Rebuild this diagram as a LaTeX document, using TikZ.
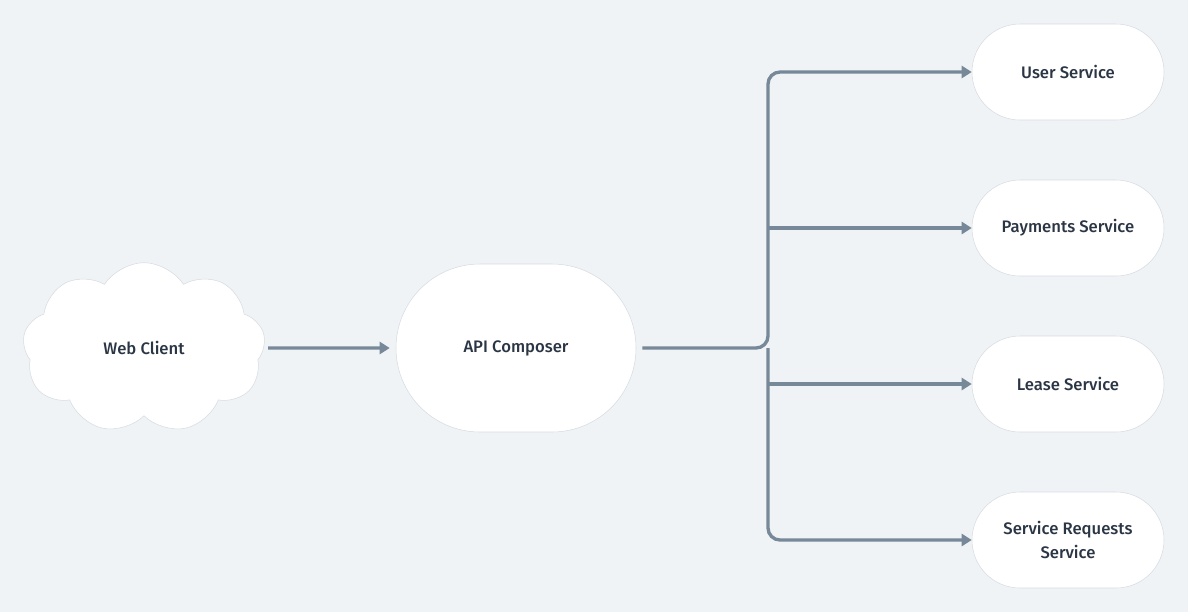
\documentclass[tikz,border=0pt]{standalone}
\usepackage{fontspec}
\setmainfont{Fira Sans}[UprightFont={* Medium}]
\usetikzlibrary{shapes.symbols,arrows.meta}

\definecolor{bgcol}{HTML}{EFF3F6}
\definecolor{linkcol}{HTML}{778899}
\definecolor{txtcol}{HTML}{2B3645}
\definecolor{edgecol}{HTML}{D6DCE2}

\tikzset{every picture/.style={line width=0.75pt}}
\tikzset{
  nodetext/.style={text=txtcol, font=\fontsize{12.5}{17.5}\selectfont, align=center},
  svcbox/.style={nodetext, draw=edgecol, line width=0.4pt, fill=white, rounded corners=36pt, minimum width=144pt, minimum height=72pt},
  composer/.style={nodetext, draw=edgecol, line width=0.4pt, fill=white, rounded corners=63pt, minimum width=180pt, minimum height=126pt},
  client/.style={nodetext, cloud, cloud puffs=9, cloud puff arc=115, aspect=1.43, draw=edgecol, line width=0.4pt, fill=white, minimum width=182pt, minimum height=128pt},
  link/.style={draw=linkcol, line width=2.5pt, rounded corners=9pt, -{Triangle[length=7.5pt,width=9pt]}},
}

\begin{document}
\begin{tikzpicture}[x=0.75pt,y=0.75pt,yscale=-1,xscale=1]
\useasboundingbox[fill=bgcol] (0,0) rectangle (1188,612);

% Client and composer
\node[client] (web) at (144,348) {Web Client};
\node[composer] (api) at (516,348) {API Composer};

% Services
\node[svcbox] (user) at (1068,72) {User Service};
\node[svcbox] (pay) at (1068,228) {Payments Service};
\node[svcbox] (lease) at (1068,384) {Lease Service};
\node[svcbox] (req) at (1068,540) {Service Requests\\Service};

% Split point
\coordinate (split) at (768,348);

% Links
\draw[link, shorten <=3pt, shorten >=4.5pt] (web.east) -- (api.west);
\draw[link, shorten <=4.5pt] (api.east) -- (split) -- (split |- user.west) -- (user.west);
\draw[link] (split |- pay.west) -- (pay.west);
\draw[link] (split |- lease.west) -- (lease.west);
\draw[link] (split) -- (split |- req.west) -- (req.west);

\end{tikzpicture}
\end{document}
